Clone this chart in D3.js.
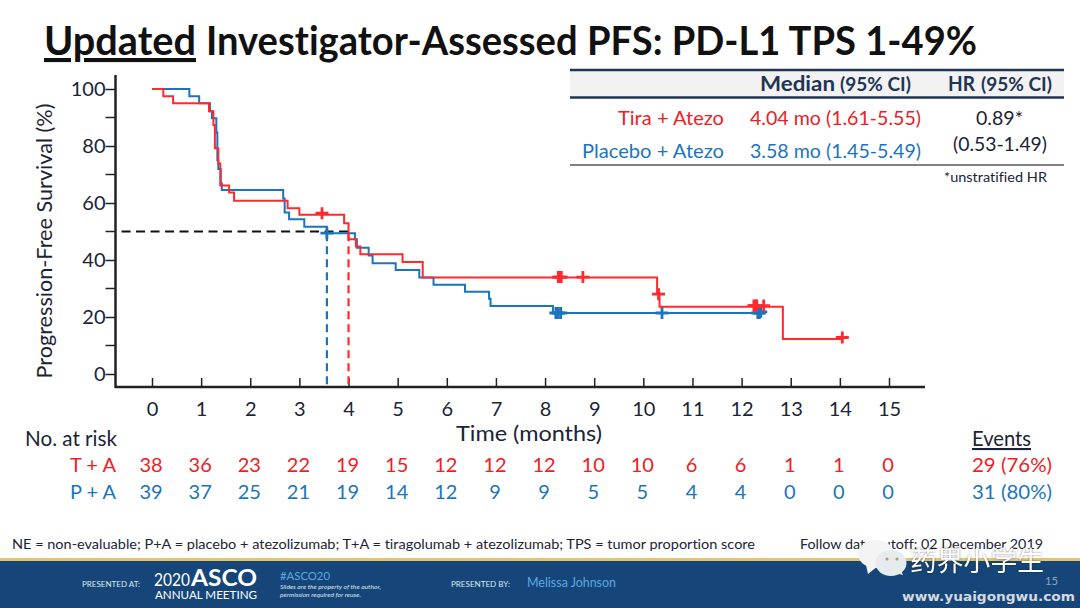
<!doctype html>
<html>
<head>
<meta charset="utf-8">
<script src="https://cdn.jsdelivr.net/npm/d3@7"></script>
<style>
  html, body { margin: 0; padding: 0; background: #fff; }
  svg { display: block; }
  text { font-family: Lato, "Open Sans", sans-serif; font-variant-ligatures: none; }
</style>
</head>
<body>
<svg id="chart" width="1080" height="608"></svg>
<script>
  // KM curves
  var tiraTimes = [0, 0.23, 0.43, 1.16, 1.25, 1.28, 1.35, 1.39, 1.57, 1.67, 2.76, 3.0, 3.91, 4.0, 4.15, 4.24, 5.1, 5.51, 10.28, 10.33, 12.84, 14.05];
  var tiraSurv = [100, 97.5, 95, 92.2, 87.4, 79.2, 73.9, 66.1, 63.7, 60.8, 58.2, 55.9, 52.9, 47.3, 44.7, 42, 39.3, 33.9, 28.3, 23.6, 12.3, 12.3];
  var placeboTimes = [0, 0.76, 0.96, 1.18, 1.22, 1.31, 1.33, 1.35, 1.40, 1.42, 2.67, 2.7, 2.79, 3.1, 3.56, 4.13, 4.17, 4.41, 4.49, 4.96, 5.44, 5.73, 6.37, 6.86, 6.89, 8.16, 12.45];
  var placeboSurv = [100, 97.5, 95, 92.2, 89.7, 84.7, 75, 71.9, 66.9, 64.6, 61.6, 56.7, 54.3, 51.7, 49.4, 47.3, 44.3, 41.6, 38.9, 36.5, 33.9, 31.3, 28.9, 26.4, 23.9, 21.4, 21.4];
  // censor marks
  var tiraCensorT = [3.46, 8.27, 8.3, 8.33, 8.77, 10.31, 12.25, 12.28, 12.31, 12.45, 14.05];
  var tiraCensorS = [56.4, 34, 34, 34, 34, 28, 24, 24, 24, 24, 12.8];
  var placeboCensorT = [3.56, 8.22, 8.27, 8.32, 10.38, 12.33, 12.36, 12.39];
  var placeboCensorS = [49.4, 21.4, 21.4, 21.4, 21.4, 21.4, 21.4, 21.8];
  var medians = [3.56, 4.0];

  var monthTicks = d3.range(0, 16);
  var pctTicks = [0, 20, 40, 60, 80, 100];
  var pctMinor = [10, 30, 50, 70, 90];
  var riskTira = [38, 36, 23, 22, 19, 15, 12, 12, 12, 10, 10, 6, 6, 1, 1, 0];
  var riskPlacebo = [39, 37, 25, 21, 19, 14, 12, 9, 9, 5, 5, 4, 4, 0, 0, 0];

  var RED = '#ff2a2e', BLUE = '#1b75bc', REDTXT = '#ee2024', NAVY = '#1f3556', INK = '#1a2436';

  var svg = d3.select('#chart');
  var x = d3.scaleLinear().domain([0, 15]).range([152, 889]);
  var y = d3.scaleLinear().domain([0, 100]).range([374, 89]);

  // text with a width fitted to the slide, Calibri is narrower than Lato
  function label(str, px, py, size, fill, opts) {
    opts = opts || {};
    var t = svg.append('text')
      .attr('x', px).attr('y', py)
      .attr('font-size', size)
      .attr('fill', fill)
      .attr('text-anchor', opts.anchor || 'start')
      .attr('font-weight', opts.weight || 400)
      .text(str);
    if (opts.width) t.attr('textLength', opts.width).attr('lengthAdjust', 'spacingAndGlyphs');
    if (opts.family) t.style('font-family', opts.family);
    if (opts.italic) t.attr('font-style', 'italic');
    if (opts.opacity) t.attr('opacity', opts.opacity);
    return t;
  }

  // title
  label('Updated', 44, 55, 41, '#111', { weight: 700, width: 152 }).style('text-decoration', 'underline');
  label('Investigator-Assessed PFS: PD-L1 TPS 1-49%', 206, 55, 41, '#111', { weight: 700, width: 771 });

  // axes
  var xAxis = svg.append('g')
    .attr('transform', 'translate(0,387)')
    .call(d3.axisBottom(x).tickValues(monthTicks).tickSize(-9).tickPadding(15).tickSizeOuter(0));
  xAxis.select('.domain').attr('d', 'M115,0H925').attr('stroke', '#222').attr('stroke-width', 2.5);
  xAxis.selectAll('.tick line').attr('stroke', '#222').attr('stroke-width', 1.5);
  xAxis.selectAll('text').attr('font-size', 20).attr('fill', INK).style('font-family', 'Lato');

  var yAxis = svg.append('g')
    .attr('transform', 'translate(115.5,0)')
    .call(d3.axisLeft(y).tickValues(pctTicks).tickSize(10).tickPadding(0).tickSizeOuter(0));
  yAxis.select('.domain').attr('d', 'M0,75V388').attr('stroke', '#222').attr('stroke-width', 2.5);
  yAxis.selectAll('.tick line').attr('stroke', '#222').attr('stroke-width', 1.5);
  yAxis.selectAll('text').attr('font-size', 20).attr('fill', INK).style('font-family', 'Lato');
  yAxis.selectAll('.minor').data(pctMinor).enter().append('line')
    .attr('class', 'minor')
    .attr('x2', -10)
    .attr('y1', function (d) { return y(d); })
    .attr('y2', function (d) { return y(d); })
    .attr('stroke', '#222').attr('stroke-width', 1.5);

  label('Progression-Free Survival (%)', 0, 0, 22, INK, { anchor: 'middle', width: 275 })
    .attr('transform', 'translate(52,241) rotate(-90)');
  label('Time (months)', 456, 441, 22, INK, { width: 146 });

  // median guide lines
  svg.append('line')
    .attr('x1', x(-0.62)).attr('x2', x(medians[1]))
    .attr('y1', y(50)).attr('y2', y(50))
    .attr('stroke', '#111').attr('stroke-width', 2).attr('stroke-dasharray', '9,5.5');
  svg.selectAll('.median').data(medians).enter().append('line')
    .attr('class', 'median')
    .attr('x1', function (d) { return x(d); })
    .attr('x2', function (d) { return x(d); })
    .attr('y1', y(49.4)).attr('y2', 387)
    .attr('stroke', function (d, i) { return i ? RED : BLUE; })
    .attr('stroke-width', 2.2).attr('stroke-dasharray', '8,5');

  // curves
  var stepLine = d3.line()
    .x(function (d) { return x(d[0]); })
    .y(function (d) { return y(d[1]); })
    .curve(d3.curveStepAfter);

  function drawCurve(times, surv, color, censorT, censorS) {
    svg.append('path')
      .datum(d3.zip(times, surv))
      .attr('d', stepLine)
      .attr('fill', 'none').attr('stroke', color).attr('stroke-width', 2);
    var marks = svg.append('g').selectAll('g').data(d3.zip(censorT, censorS)).enter().append('g')
      .attr('transform', function (d) { return 'translate(' + x(d[0]) + ',' + y(d[1]) + ')'; });
    marks.append('path')
      .attr('d', 'M-6.5,0H6.5M0,-6V6')
      .attr('stroke', color).attr('stroke-width', 2.8).attr('fill', 'none');
  }
  drawCurve(placeboTimes, placeboSurv, BLUE, placeboCensorT, placeboCensorS);
  drawCurve(tiraTimes, tiraSurv, RED, tiraCensorT, tiraCensorS);

  // number at risk
  label('No. at risk', 25, 446, 21, INK, { width: 92 });
  label('T + A', 70, 472, 20, REDTXT, { width: 46 });
  label('P + A', 70, 499, 20, BLUE, { width: 46 });
  svg.selectAll('.riskT').data(riskTira).enter().append('text')
    .attr('class', 'riskT')
    .attr('x', function (d, i) { return x(monthTicks[i]) - 1; })
    .attr('y', 472).attr('text-anchor', 'middle')
    .attr('font-size', 20).attr('fill', REDTXT)
    .text(function (d) { return d; });
  svg.selectAll('.riskP').data(riskPlacebo).enter().append('text')
    .attr('class', 'riskP')
    .attr('x', function (d, i) { return x(monthTicks[i]) - 1; })
    .attr('y', 499).attr('text-anchor', 'middle')
    .attr('font-size', 20).attr('fill', BLUE)
    .text(function (d) { return d; });

  label('Events', 972, 446, 21, INK, { width: 59 }).style('text-decoration', 'underline');
  label('29 (76%)', 972, 472, 20, REDTXT, { width: 80 });
  label('31 (80%)', 972, 499, 20, BLUE, { width: 80 });

  // summary table
  svg.append('rect').attr('x', 570).attr('y', 70).attr('width', 494).attr('height', 27).attr('fill', '#f2f2f2');
  svg.append('rect').attr('x', 570).attr('y', 98).attr('width', 494).attr('height', 67).attr('fill', '#fff');
  svg.append('line').attr('x1', 570).attr('x2', 1064).attr('y1', 70).attr('y2', 70).attr('stroke', NAVY).attr('stroke-width', 2.5);
  svg.append('line').attr('x1', 570).attr('x2', 1064).attr('y1', 97.5).attr('y2', 97.5).attr('stroke', NAVY).attr('stroke-width', 2.5);
  svg.append('line').attr('x1', 570).attr('x2', 1064).attr('y1', 165).attr('y2', 165).attr('stroke', '#808080').attr('stroke-width', 2);

  label('Median', 760, 91, 20, NAVY, { weight: 700, width: 75 });
  label('(95% CI)', 840, 91, 18, NAVY, { weight: 700, width: 71 });
  label('HR', 948, 91, 20, NAVY, { weight: 700, width: 27 });
  label('(95% CI)', 981, 91, 18, NAVY, { weight: 700, width: 71 });
  label('Tira + Atezo', 618, 125, 20, REDTXT, { width: 106 });
  label('Placebo + Atezo', 582, 158, 20, BLUE, { width: 142 });
  label('4.04 mo (1.61-5.55)', 750, 125, 20, REDTXT, { width: 171 });
  label('3.58 mo (1.45-5.49)', 750, 158, 20, BLUE, { width: 171 });
  label('0.89*', 976, 125, 20, INK, { width: 47 });
  label('(0.53-1.49)', 953, 151, 20, INK, { width: 94 });
  label('*unstratified HR', 944, 182, 13, INK, { width: 103 });

  // footnotes
  label('NE = non-evaluable; P+A = placebo + atezolizumab; T+A = tiragolumab + atezolizumab; TPS = tumor proportion score', 12, 549, 14, INK, { width: 743 });
  label('Follow data cutoff: 02 December 2019', 800, 549, 14, INK, { width: 243 });

  // footer band
  svg.append('rect').attr('x', 0).attr('y', 558).attr('width', 1080).attr('height', 50).attr('fill', '#164679');
  svg.append('rect').attr('x', 0).attr('y', 558).attr('width', 1080).attr('height', 3).attr('fill', '#e3c668');
  label('PRESENTED AT:', 82, 587, 7, '#dfe6ee', { width: 58 });
  label('2020', 154, 586, 17, '#fff', { width: 36 });
  label('ASCO', 191, 586, 23, '#fff', { width: 66, weight: 700 });
  label('ANNUAL MEETING', 155, 599, 11, '#fff', { width: 102 });
  label('#ASCO20', 280, 580, 12, '#5aa9e0', { width: 50 });
  label('Slides are the property of the author,', 280, 589, 6, '#dfe6ee', { width: 101, italic: true });
  label('permission required for reuse.', 280, 597, 6, '#dfe6ee', { width: 81, italic: true });
  label('PRESENTED BY:', 451, 587, 7, '#dfe6ee', { width: 59 });
  label('Melissa Johnson', 527, 587, 13, '#5aa9e0', { width: 89 });
  label('15', 1045, 585, 12, '#8ea5c0', { width: 13 });

  // watermark
  var wm = svg.append('g').attr('fill', '#fff');
  wm.append('ellipse').attr('cx', 876).attr('cy', 554).attr('rx', 18).attr('ry', 14).attr('fill', '#f4f4f4');
  wm.append('path').attr('d', 'M866,565L868,574L878,566Z').attr('fill', '#f4f4f4');
  wm.append('ellipse').attr('cx', 891).attr('cy', 563).attr('rx', 15.5).attr('ry', 13).attr('fill', '#e6ebf0');
  wm.append('path').attr('d', 'M896,573L903,575L900,568Z').attr('fill', '#e6ebf0');
  wm.append('circle').attr('cx', 887).attr('cy', 559).attr('r', 1.6).attr('fill', '#b79d5c');
  wm.append('circle').attr('cx', 897).attr('cy', 559).attr('r', 1.6).attr('fill', '#b79d5c');
  label('药界小学生', 910, 571, 27, '#fff', { width: 134, family: '"Noto Sans CJK SC"', weight: 400 })
    .style('filter', 'drop-shadow(0 0 1px rgba(0,0,0,0.45))');
  label('www.yuaigongwu.com', 902, 601, 13, '#d5d9de', { width: 173, weight: 700, family: '"DejaVu Sans"' });
</script>
</body>
</html>
